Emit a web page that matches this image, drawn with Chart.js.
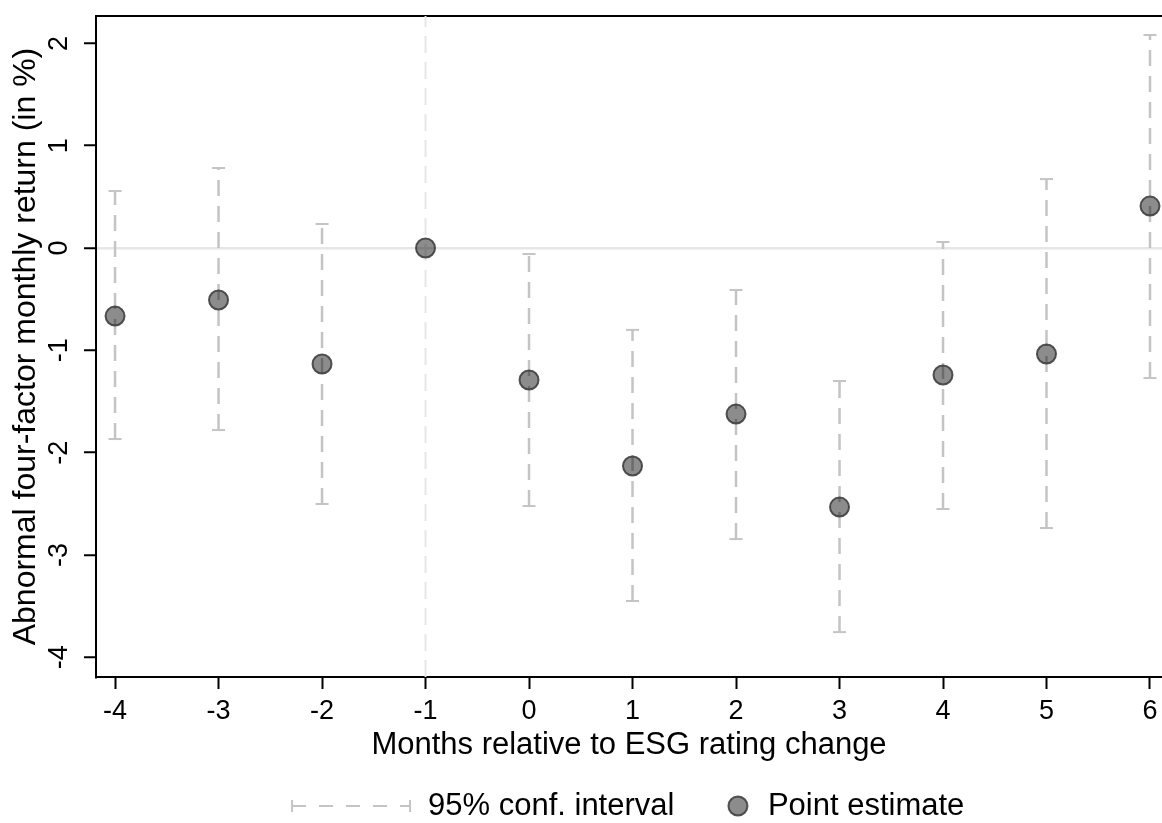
<!DOCTYPE html>
<html>
<head>
<meta charset="utf-8">
<script src="https://cdn.jsdelivr.net/npm/chart.js@4.4.1/dist/chart.umd.min.js"></script>
<style>
html,body{margin:0;padding:0;background:#fff;overflow:hidden;}
#wrap{width:1162px;height:823px;position:relative;}
canvas{display:block;}
</style>
</head>
<body>
<div id="wrap"><canvas id="c"></canvas></div>
<script>
// ---- data ----
const months        = [-4, -3, -2, -1, 0, 1, 2, 3, 4, 5, 6];
const pointEstimate = [-0.665, -0.508, -1.134, 0, -1.29, -2.131, -1.623, -2.532, -1.241, -1.036, 0.41];
const ciLower       = [-1.867, -1.779, -2.502, null, -2.522, -3.45, -2.845, -3.754, -2.551, -2.737, -1.271];
const ciUpper       = [0.557, 0.782, 0.235, null, -0.059, -0.80, -0.41, -1.30, 0.059, 0.674, 2.082];
const xTicks = [-4, -3, -2, -1, 0, 1, 2, 3, 4, 5, 6];
const yTicks = [-4, -3, -2, -1, 0, 1, 2];
const eventMonth = -1;
const xTitle = 'Months relative to ESG rating change';
const yTitle = 'Abnormal four-factor monthly return (in %)';
const ciLabel = '95% conf. interval';
const peLabel = 'Point estimate';

// ---- axis ranges ----
const X_MIN = -4.184, X_MAX = 6.116;
const Y_MIN = -4.193, Y_MAX = 2.268;

// ---- styles ----
const CI_COLOR = '#c4c4c4';
const PT_FILL = 'rgba(0,0,0,0.45)';
const PT_BORDER = 'rgba(55,55,55,0.85)';
const FONT = "'Liberation Sans', Arial, Helvetica, sans-serif";

Chart.defaults.font.family = FONT;
Chart.defaults.color = '#000';

// CI dataset with gaps between intervals
const ciData = [];
months.forEach((m, i) => {
  if (ciLower[i] === null) return;
  ciData.push({x: m, y: ciLower[i]});
  ciData.push({x: m, y: ciUpper[i]});
  ciData.push({x: m, y: null});
});

// legend symbols
function makeCiSymbol() {
  const c = document.createElement('canvas');
  c.width = 180; c.height = 16;
  const g = c.getContext('2d');
  g.strokeStyle = CI_COLOR; g.lineWidth = 2;
  g.setLineDash([14, 13]);
  g.beginPath(); g.moveTo(7, 8); g.lineTo(125, 8); g.stroke();
  g.setLineDash([]);
  g.beginPath(); g.moveTo(7, 2); g.lineTo(7, 14); g.moveTo(125, 2); g.lineTo(125, 14); g.stroke();
  return c;
}
function makePtSymbol() {
  const c = document.createElement('canvas');
  c.width = 80; c.height = 32;
  const g = c.getContext('2d');
  g.fillStyle = PT_FILL; g.strokeStyle = PT_BORDER; g.lineWidth = 2;
  g.beginPath(); g.arc(63, 16, 9.5, 0, Math.PI * 2); g.fill(); g.stroke();
  return c;
}
const ciSymbol = makeCiSymbol();
const ptSymbol = makePtSymbol();

const LEGEND_X0 = 337.5;
const LEGEND_TOP = 787.5;
const legendPlace = {
  id: 'legendPlace',
  afterLayout(chart) {
    const lg = chart.legend;
    if (!lg || !lg.lineWidths) return;
    const h = lg.bottom - lg.top;
    lg.left = 0;
    lg.right = LEGEND_X0 + lg.lineWidths[0] + 0.01;
    lg.width = lg.right - lg.left;
    lg.top = LEGEND_TOP; lg.bottom = LEGEND_TOP + h;
  }
};

new Chart(document.getElementById('c'), {
  data: {
    datasets: [
      {
        type: 'scatter',
        label: peLabel,
        data: months.map((m, i) => ({x: m, y: pointEstimate[i]})),
        pointRadius: 9.5,
        pointHoverRadius: 9.5,
        pointBackgroundColor: PT_FILL,
        pointBorderColor: PT_BORDER,
        pointBorderWidth: 2
      },
      {
        type: 'line',
        label: ciLabel,
        data: ciData,
        borderColor: CI_COLOR,
        borderWidth: 2.5,
        borderDash: [16, 10],
        pointStyle: 'line',
        pointRadius: 6.5,
        pointHoverRadius: 6.5,
        pointBorderColor: CI_COLOR,
        pointBorderWidth: 2,
        fill: false,
        tension: 0,
        spanGaps: false
      },
      {
        type: 'line',
        label: 'event',
        data: [{x: eventMonth, y: Y_MIN}, {x: eventMonth, y: Y_MAX}],
        borderColor: '#e6e6e6',
        borderWidth: 2,
        borderDash: [17, 9],
        pointRadius: 0,
        fill: false
      }
    ]
  },
  options: {
    responsive: true,
    maintainAspectRatio: false,
    animation: false,
    events: [],
    layout: {autoPadding: false, padding: {top: 16, right: 0, bottom: 0, left: 0}},
    scales: {
      x: {
        type: 'linear', position: 'bottom', min: X_MIN, max: X_MAX,
        afterBuildTicks: s => { s.ticks = xTicks.map(v => ({value: v})); },
        afterFit: s => { s.height = 102; s.paddingLeft = 0; s.paddingRight = 0; },
        ticks: {autoSkip: false, minRotation: 0, maxRotation: 0, padding: 6, font: {size: 27}, color: '#000', callback: v => String(v)},
        grid: {drawOnChartArea: false, drawTicks: true, tickLength: 12, tickColor: '#000', tickWidth: 2},
        border: {display: true, color: '#000', width: 2},
        title: {display: true, text: xTitle, font: {size: 31}, color: '#000', padding: {top: 0, bottom: 15.4}}
      },
      xTop: {
        type: 'linear', position: 'top', min: X_MIN, max: X_MAX,
        afterFit: s => { s.height = 0; s.paddingLeft = 0; s.paddingRight = 0; },
        ticks: {display: false},
        grid: {drawOnChartArea: false, drawTicks: false},
        border: {display: true, color: '#000', width: 2}
      },
      y: {
        type: 'linear', position: 'left', min: Y_MIN, max: Y_MAX,
        afterBuildTicks: s => { s.ticks = yTicks.map(v => ({value: v})); },
        afterFit: s => { s.width = 96; s.paddingTop = 0; s.paddingBottom = 0; },
        ticks: {autoSkip: false, minRotation: 90, maxRotation: 90, crossAlign: 'center', padding: 12, font: {size: 27}, color: '#000', callback: v => String(v)},
        grid: {
          color: c => (c.tick && c.tick.value === 0) ? '#e6e6e6' : 'rgba(0,0,0,0)',
          lineWidth: 2.5,
          drawTicks: true, tickLength: 12, tickColor: '#000', tickWidth: 2
        },
        border: {display: true, color: '#000', width: 2},
        title: {display: true, text: yTitle, font: {size: 32}, color: '#000', padding: {top: 7, bottom: 0}}
      }
    },
    plugins: {
      tooltip: {enabled: false},
      legend: {
        display: true, position: 'bottom', align: 'end',
        labels: {
          usePointStyle: true, pointStyleWidth: 75, padding: 3,
          font: {size: 31}, color: '#000',
          generateLabels: () => [
            {text: ciLabel, pointStyle: ciSymbol, fillStyle: 'rgba(0,0,0,0)', strokeStyle: 'rgba(0,0,0,0)', lineWidth: 0, hidden: false, datasetIndex: 1},
            {text: peLabel, pointStyle: ptSymbol, fillStyle: 'rgba(0,0,0,0)', strokeStyle: 'rgba(0,0,0,0)', lineWidth: 0, hidden: false, datasetIndex: 0}
          ]
        }
      }
    }
  },
  plugins: [legendPlace]
});
</script>
</body>
</html>
